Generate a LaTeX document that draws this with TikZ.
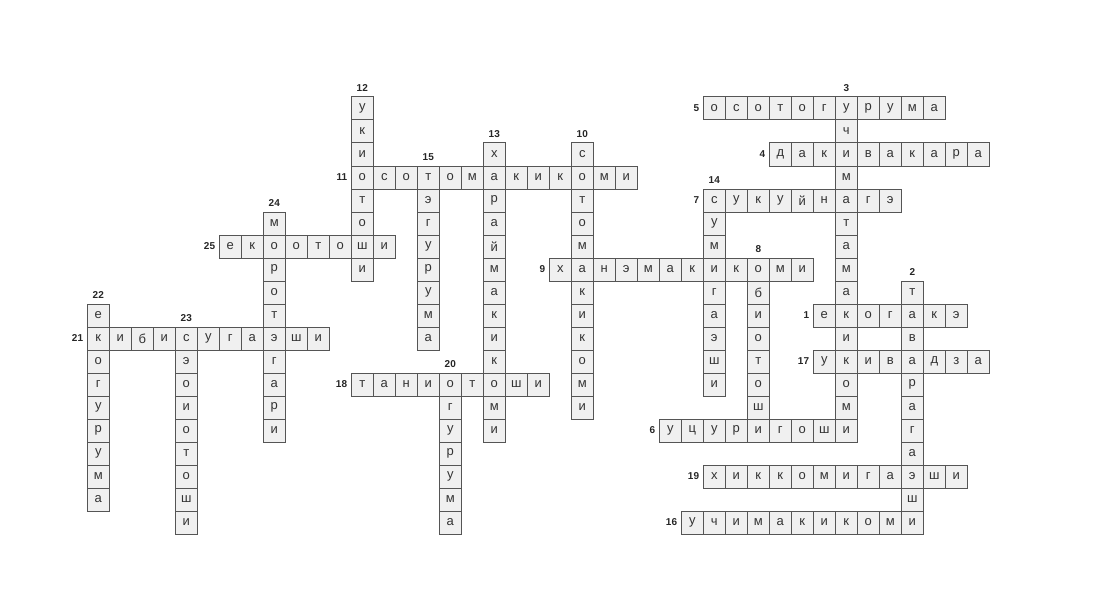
\documentclass[tikz,border=0pt]{standalone}
\usepackage{fontspec}
\setmainfont{Liberation Sans}
\usepackage{tikz}
\usepackage{xcolor}

\definecolor{cellfill}{RGB}{240,240,240}
\definecolor{cellline}{RGB}{85,85,85}
\definecolor{lettercol}{RGB}{51,51,51}

\tikzset{cell/.style={draw=cellline, line width=1pt, fill=cellfill, rectangle,
                      minimum width=22pt, minimum height=23pt, inner sep=0pt,
                      text=lettercol, font=\fontsize{13}{13}\selectfont},
         numlbl/.style={inner sep=0pt, text=black!85, font=\bfseries\fontsize{10}{10}\selectfont}}

% #1 number, #2 column, #3 row, #4 letters
\newcommand{\wordacross}[4]{%
  \node[numlbl, anchor=east] (n#1) at ({87.3+22*#2-4},{108.5+23*#3}) {#1};
  \foreach \l [count=\i from 0] in {#4}
    \node[cell] (w#1-\i) at ({98.3+22*(#2+\i)},{108.5+23*#3}) {\l};
}
\newcommand{\worddown}[4]{%
  \node[numlbl] (n#1) at ({98.3+22*#2},{97+23*#3-8.5}) {#1};
  \foreach \l [count=\i from 0] in {#4}
    \node[cell] (w#1-\i) at ({98.3+22*#2},{108.5+23*(#3+\i)}) {\l};
}

\begin{document}
\begin{tikzpicture}[x=1pt, y=-1pt]
  \useasboundingbox (0,0) rectangle (1100,615);

  % across
  \wordacross{5}{28}{0}{о,с,о,т,о,г,у,р,у,м,а}
  \wordacross{4}{31}{2}{д,а,к,и,в,а,к,а,р,а}
  \wordacross{11}{12}{3}{о,с,о,т,о,м,а,к,и,к,о,м,и}
  \wordacross{7}{28}{4}{с,у,к,у,й,н,а,г,э}
  \wordacross{25}{6}{6}{е,к,о,о,т,о,ш,и}
  \wordacross{9}{21}{7}{х,а,н,э,м,а,к,и,к,о,м,и}
  \wordacross{1}{33}{9}{е,к,о,г,а,к,э}
  \wordacross{21}{0}{10}{к,и,б,и,с,у,г,а,э,ш,и}
  \wordacross{17}{33}{11}{у,к,и,в,а,д,з,а}
  \wordacross{18}{12}{12}{т,а,н,и,о,т,о,ш,и}
  \wordacross{6}{26}{14}{у,ц,у,р,и,г,о,ш,и}
  \wordacross{19}{28}{16}{х,и,к,к,о,м,и,г,а,э,ш,и}
  \wordacross{16}{27}{18}{у,ч,и,м,а,к,и,к,о,м,и}

  % down
  \worddown{12}{12}{0}{у,к,и,о,т,о,ш,и}
  \worddown{3}{34}{0}{у,ч,и,м,а,т,а,м,а,к,и,к,о,м,и}
  \worddown{13}{18}{2}{х,а,р,а,й,м,а,к,и,к,о,м,и}
  \worddown{10}{22}{2}{с,о,т,о,м,а,к,и,к,о,м,и}
  \worddown{15}{15}{3}{т,э,г,у,р,у,м,а}
  \worddown{14}{28}{4}{с,у,м,и,г,а,э,ш,и}
  \worddown{24}{8}{5}{м,о,р,о,т,э,г,а,р,и}
  \worddown{8}{30}{7}{о,б,и,о,т,о,ш,и}
  \worddown{2}{37}{8}{т,а,в,а,р,а,г,а,э,ш,и}
  \worddown{22}{0}{9}{е,к,о,г,у,р,у,м,а}
  \worddown{23}{4}{10}{с,э,о,и,о,т,о,ш,и}
  \worddown{20}{16}{12}{о,г,у,р,у,м,а}
\end{tikzpicture}
\end{document}
